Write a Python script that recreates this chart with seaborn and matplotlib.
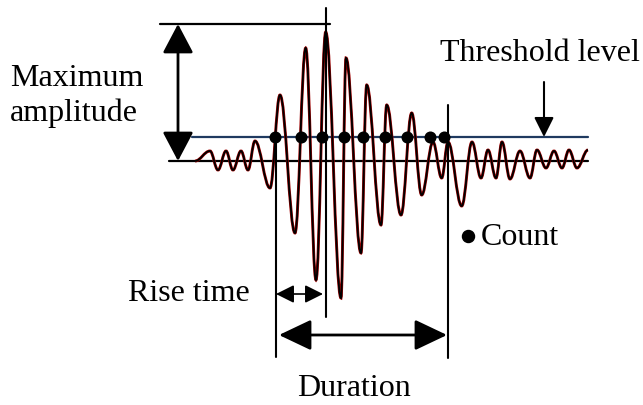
import numpy as np
import pandas as pd
import matplotlib
matplotlib.use("Agg")
import matplotlib.pyplot as plt
from matplotlib.path import Path
from matplotlib.patches import PathPatch
import seaborn as sns

sns.set_style("white")
plt.rcParams["font.family"] = ["Liberation Serif", "DejaVu Serif"]
plt.rcParams["text.color"] = "black"

# --- data (time in px units, amplitude measured up from the baseline) ---
wave_t = [195, 210, 218, 226, 233, 241, 248, 255, 270, 280, 295, 305.7, 316, 325.7,
          341, 346, 361, 366.7, 381, 386.7, 401, 411.7, 421.7, 433, 441.7, 448,
          461.7, 472, 481, 488, 496, 502, 510, 520, 530, 537, 546, 554, 562, 569,
          577, 588]
wave_y = [161, 151, 170, 151, 170, 151, 170, 141, 188, 95, 233, 48, 280, 32,
          298, 58, 253, 85, 225, 105, 215, 113, 195, 142, 178, 142,
          206, 142, 178, 150, 178, 142, 179, 151, 178, 150, 168, 151, 168, 150,
          168, 150]
baseline_px = 161
wave_amp = [baseline_px - v for v in wave_y]

threshold = 24          # threshold level above baseline
max_amp = 137           # maximum amplitude marker
count_t = [275, 301, 322, 344, 363, 385, 407, 430, 444]
t_start = 276           # first threshold crossing
t_peak = 326            # time of the peak
t_end = 448             # last threshold crossing

# --- figure in pixel-like units ---
fig = plt.figure(figsize=(6.43, 4.05), dpi=100)
ax = fig.add_axes([0, 0, 1, 1])
ax.set_xlim(0, 643)
ax.set_ylim(baseline_px - 405, baseline_px)
ax.axis("off")

# waveform: smooth Bezier segments between the read extrema
verts = [(wave_t[0], wave_amp[0])]
codes = [Path.MOVETO]
for i in range(len(wave_t) - 1):
    x0, y0 = wave_t[i], wave_amp[i]
    x1, y1 = wave_t[i + 1], wave_amp[i + 1]
    d = (x1 - x0) * 0.38
    verts += [(x0 + d, y0), (x1 - d, y1), (x1, y1)]
    codes += [Path.CURVE4] * 3
path = Path(verts, codes)
ax.add_patch(PathPatch(path, fill=False, edgecolor="#a00000", lw=2.1, zorder=3))
ax.add_patch(PathPatch(path, fill=False, edgecolor="black", lw=1.3, zorder=4))

# baseline and threshold lines
ax.plot([169, 588], [0, 0], color="black", lw=1.6, zorder=2)
ax.plot([192, 588], [threshold, threshold], color="#1f3a60", lw=1.6, zorder=2)

# top marker of maximum amplitude
ax.plot([160, 330], [max_amp, max_amp], color="black", lw=1.6)

# vertical markers
ax.plot([t_start, t_start], [threshold, baseline_px - 357], color="black", lw=1.5, zorder=5)
ax.plot([t_end, t_end], [baseline_px - 105, baseline_px - 358], color="black", lw=1.5, zorder=5)
ax.plot([t_peak, t_peak], [baseline_px - 8, baseline_px - 317], color="black", lw=1.5, zorder=5)

# count dots
counts = pd.DataFrame({"t": count_t, "amp": [threshold] * len(count_t)})
sns.scatterplot(data=counts, x="t", y="amp", s=75, color="black",
                edgecolor="black", linewidth=0, ax=ax, zorder=6)


def double_arrow(x0, y0, x1, y1, hl, hw, lw):
    ax.annotate("", xy=(x1, y1), xytext=(x0, y0),
                arrowprops=dict(arrowstyle=f"<|-|>,head_length={hl},head_width={hw}",
                                color="black", lw=lw, shrinkA=0, shrinkB=0,
                                mutation_scale=1))


# maximum amplitude arrow
double_arrow(178, max_amp, 178, 0, 18, 9.5, 2.0)
# rise time arrow
double_arrow(t_start, baseline_px - 294, t_peak - 3, baseline_px - 294, 11, 5.5, 1.2)
# duration arrow
double_arrow(279, baseline_px - 335, t_end - 1, baseline_px - 335, 20, 9.5, 2.0)

# threshold pointer
ax.annotate("", xy=(544, threshold), xytext=(544, baseline_px - 82),
            arrowprops=dict(arrowstyle="-|>,head_length=12,head_width=6",
                            color="black", lw=1.5, shrinkA=0, shrinkB=0,
                            mutation_scale=1))

# labels
fs = 23
ax.text(10, baseline_px - 86, "Maximum", fontsize=fs, va="baseline", ha="left")
ax.text(10, baseline_px - 121, "amplitude", fontsize=fs, va="baseline", ha="left")
ax.text(640, baseline_px - 61, "Threshold level", fontsize=fs, va="baseline", ha="right")
ax.text(250, baseline_px - 301, "Rise time", fontsize=fs, va="baseline", ha="right")
ax.text(354, baseline_px - 396, "Duration", fontsize=fs, va="baseline", ha="center")
ax.scatter([468], [baseline_px - 236], s=75, color="black", zorder=6)
ax.text(481, baseline_px - 245, "Count", fontsize=fs, va="baseline", ha="left")

fig.savefig("out.png", dpi=100)
